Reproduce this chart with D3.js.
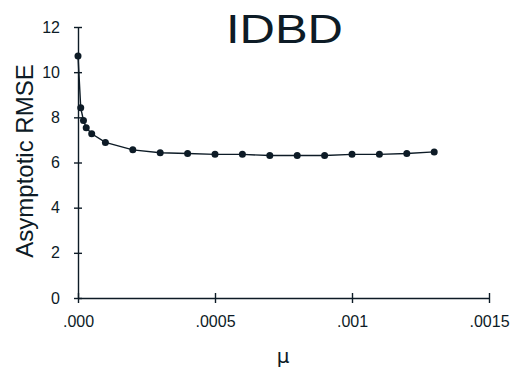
<!DOCTYPE html>
<html lang="en">
<head>
  <meta charset="utf-8" />
  <title>IDBD</title>
  <style>
    body { margin: 0; padding: 0; background: #fff; }
    svg { display: block; }
    .axis path, .axis line { stroke: #0d1b26; stroke-width: 1.4px; }
    .axis text { font: 16px "Liberation Sans", Arial, sans-serif; fill: #0d1b26; }
  </style>
  <script src="https://d3js.org/d3.v7.min.js"></script>
</head>
<body>
  <svg width="523" height="381"></svg>
  <script>
    // step size mu and asymptotic RMSE
    const mu = [0, 0.00001, 0.00002, 0.00003, 0.00005, 0.0001, 0.0002, 0.0003, 0.0004,
                0.0005, 0.0006, 0.0007, 0.0008, 0.0009, 0.001, 0.0011, 0.0012, 0.0013];
    const rmse = [10.72, 8.42, 7.86, 7.54, 7.27, 6.89, 6.56, 6.43, 6.40,
                  6.36, 6.36, 6.31, 6.31, 6.31, 6.36, 6.36, 6.40, 6.47];
    const xTicks = [0, 0.0005, 0.001, 0.0015];
    const xTickLabels = [".000", ".0005", ".001", ".0015"];
    const yTicks = [0, 2, 4, 6, 8, 10, 12];

    const ink = "#0d1b26";
    const svg = d3.select("svg");

    const x = d3.scaleLinear().domain([0, 0.0015]).range([78, 489]);
    const y = d3.scaleLinear().domain([0, 12]).range([298, 27]);

    // x axis, ticks crossing the line
    const xAxis = svg.append("g")
      .attr("class", "axis")
      .attr("transform", "translate(0,298)")
      .call(d3.axisBottom(x).tickValues(xTicks)
        .tickFormat((d, i) => xTickLabels[i])
        .tickSizeInner(5).tickSizeOuter(0).tickPadding(13));
    xAxis.selectAll(".tick line").attr("y1", -5);

    const yAxis = svg.append("g")
      .attr("class", "axis")
      .attr("transform", "translate(78,0)")
      .call(d3.axisLeft(y).tickValues(yTicks)
        .tickSizeInner(4).tickSizeOuter(0).tickPadding(14));
    yAxis.selectAll(".tick line").attr("x1", 4);

    // series
    const pts = mu.map((m, i) => [m, rmse[i]]);
    svg.append("path")
      .datum(pts)
      .attr("fill", "none")
      .attr("stroke", ink)
      .attr("stroke-width", 1.4)
      .attr("d", d3.line().x(d => x(d[0])).y(d => y(d[1])));

    svg.append("g")
      .selectAll("circle")
      .data(pts)
      .join("circle")
      .attr("cx", d => x(d[0]))
      .attr("cy", d => y(d[1]))
      .attr("r", 3.5)
      .attr("fill", ink);

    // title
    svg.append("text")
      .attr("x", 226)
      .attr("y", 43)
      .attr("textLength", 117)
      .attr("lengthAdjust", "spacingAndGlyphs")
      .style("font", "40px 'Liberation Sans', Arial, sans-serif")
      .attr("fill", ink)
      .text("IDBD");

    // axis labels
    svg.append("text")
      .attr("transform", "translate(33,161) rotate(-90)")
      .attr("text-anchor", "middle")
      .style("font", "24px 'Liberation Sans', Arial, sans-serif")
      .attr("fill", ink)
      .text("Asymptotic RMSE");

    svg.append("text")
      .attr("x", 283)
      .attr("y", 363)
      .attr("text-anchor", "middle")
      .style("font", "20px 'DejaVu Sans', sans-serif")
      .attr("fill", ink)
      .text("μ");
  </script>
</body>
</html>
